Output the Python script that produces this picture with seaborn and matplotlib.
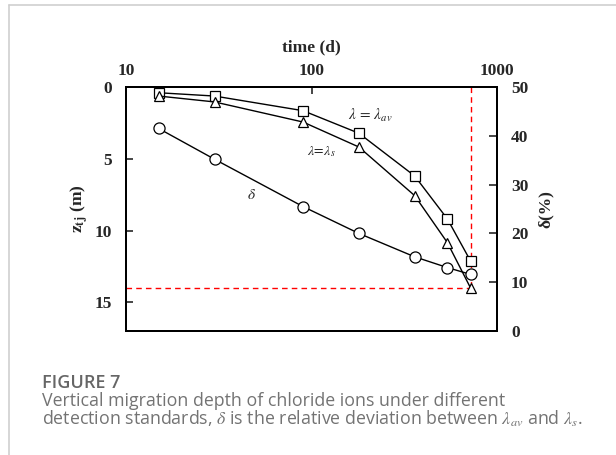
import numpy as np
import pandas as pd
import matplotlib
matplotlib.use("Agg")
import matplotlib.pyplot as plt
from matplotlib.lines import Line2D
import seaborn as sns

# ---- data ----
time_d = [15, 30, 90, 180, 360, 540, 720]
z_av = [0.40, 0.63, 1.65, 3.22, 6.20, 9.19, 12.12]
z_s = [0.63, 1.04, 2.44, 4.18, 7.57, 10.84, 14.00]
delta_pct = [41.5, 35.2, 25.5, 20.0, 15.2, 13.0, 11.6]

x_ticks = [10, 100, 1000]
z_ticks = [0, 5, 10, 15]
d_ticks = [0, 10, 20, 30, 40, 50]

sns.set_theme(style="white")
plt.rcParams["font.family"] = ["Liberation Serif", "DejaVu Serif"]
plt.rcParams["mathtext.fontset"] = "stix"

fig = plt.figure(figsize=(6.16, 4.55), dpi=100)
ax = fig.add_axes([126 / 616, 1 - 331 / 455, (497 - 126) / 616, (331 - 87) / 455])

mk = dict(color="black", linewidth=1.0, markerfacecolor="white",
          markeredgecolor="black", markeredgewidth=0.9)
sns.lineplot(x=time_d, y=z_av, ax=ax, marker="s", markersize=6.5, **mk)
sns.lineplot(x=time_d, y=z_s, ax=ax, marker="^", markersize=6.5, **mk)

ax.set_xscale("log")
ax.set_xlim(10, 1000)
ax.set_ylim(17, 0)

# red dashed reference lines at the last time / deepest z
ax.plot([x_ticks[0], time_d[-1]], [z_s[-1], z_s[-1]], color="red", ls=(0, (4, 3)), lw=1.0, zorder=1)
ax.plot([time_d[-1], time_d[-1]], [0, z_s[-1]], color="red", ls=(0, (4, 3)), lw=1.0, zorder=1)

tfs = 12.5
ax.set_xticks(x_ticks)
ax.set_xticklabels([str(v) for v in x_ticks])
ax.xaxis.set_minor_locator(matplotlib.ticker.NullLocator())
ax.set_yticks(z_ticks)
ax.xaxis.tick_top()
ax.xaxis.set_label_position("top")
ax.tick_params(axis="x", direction="in", length=5, width=1.2, pad=6, labelsize=tfs)
ax.tick_params(axis="y", direction="in", length=5, width=1.2, pad=10, labelsize=tfs)
for lab in ax.get_xticklabels() + ax.get_yticklabels():
    lab.set_fontweight("bold")

ax.set_xlabel("time (d)", fontsize=12.5, fontweight="bold", labelpad=8)
ax.set_ylabel(r"$\mathbf{z}_{\mathbf{tj}}$ (m)", fontsize=12.5, fontweight="bold", labelpad=3)

ax2 = ax.twinx()
sns.lineplot(x=time_d, y=delta_pct, ax=ax2, marker="o", markersize=8, **mk)
ax2.set_ylim(0, 50)
ax2.set_yticks(d_ticks)
ax2.tick_params(axis="y", direction="in", length=6, width=1.2, pad=10, labelsize=tfs)
for lab in ax2.get_yticklabels():
    lab.set_fontweight("bold")
ax2.set_ylabel("δ(%)", fontsize=12.5, fontweight="bold", labelpad=7)
ax2.grid(False)
ax.grid(False)

for a in (ax, ax2):
    for s in a.spines.values():
        s.set_color("black")
        s.set_linewidth(1.4)

# in-plot annotations
ax.text(208, 1.95, r"$\lambda\,=\,\lambda_{av}$", fontsize=11, ha="center", va="center")
ax.text(113, 4.5, r"$\lambda\!=\!\lambda_s$", fontsize=10, ha="center", va="center")
ax.text(47.7, 7.5, r"$\delta$", fontsize=11, ha="center", va="center")

# frame lines of the figure panel
fig.add_artist(Line2D([9 / 616, 1], [1 - 5 / 455, 1 - 5 / 455], transform=fig.transFigure, color="#cfcfcf", lw=1.2))
fig.add_artist(Line2D([9 / 616, 9 / 616], [0, 1 - 5 / 455], transform=fig.transFigure, color="#cfcfcf", lw=1.2))

# caption
cap = ["Open Sans", "DejaVu Sans"]
fig.text(42 / 616, 1 - 388 / 455, "FIGURE 7", family=cap, fontsize=13, fontweight="semibold",
         color="#666666", va="baseline", ha="left")
fig.text(42 / 616, 1 - 406 / 455, "Vertical migration depth of chloride ions under different",
         family=cap, fontsize=12.8, color="#737373", va="baseline", ha="left")
fig.text(42 / 616, 1 - 425 / 455,
         r"detection standards, $\delta$ is the relative deviation between $\lambda_{av}$ and $\lambda_s$.",
         family=cap, fontsize=12.8, color="#737373", va="baseline", ha="left")

fig.savefig("out.png", dpi=100)
